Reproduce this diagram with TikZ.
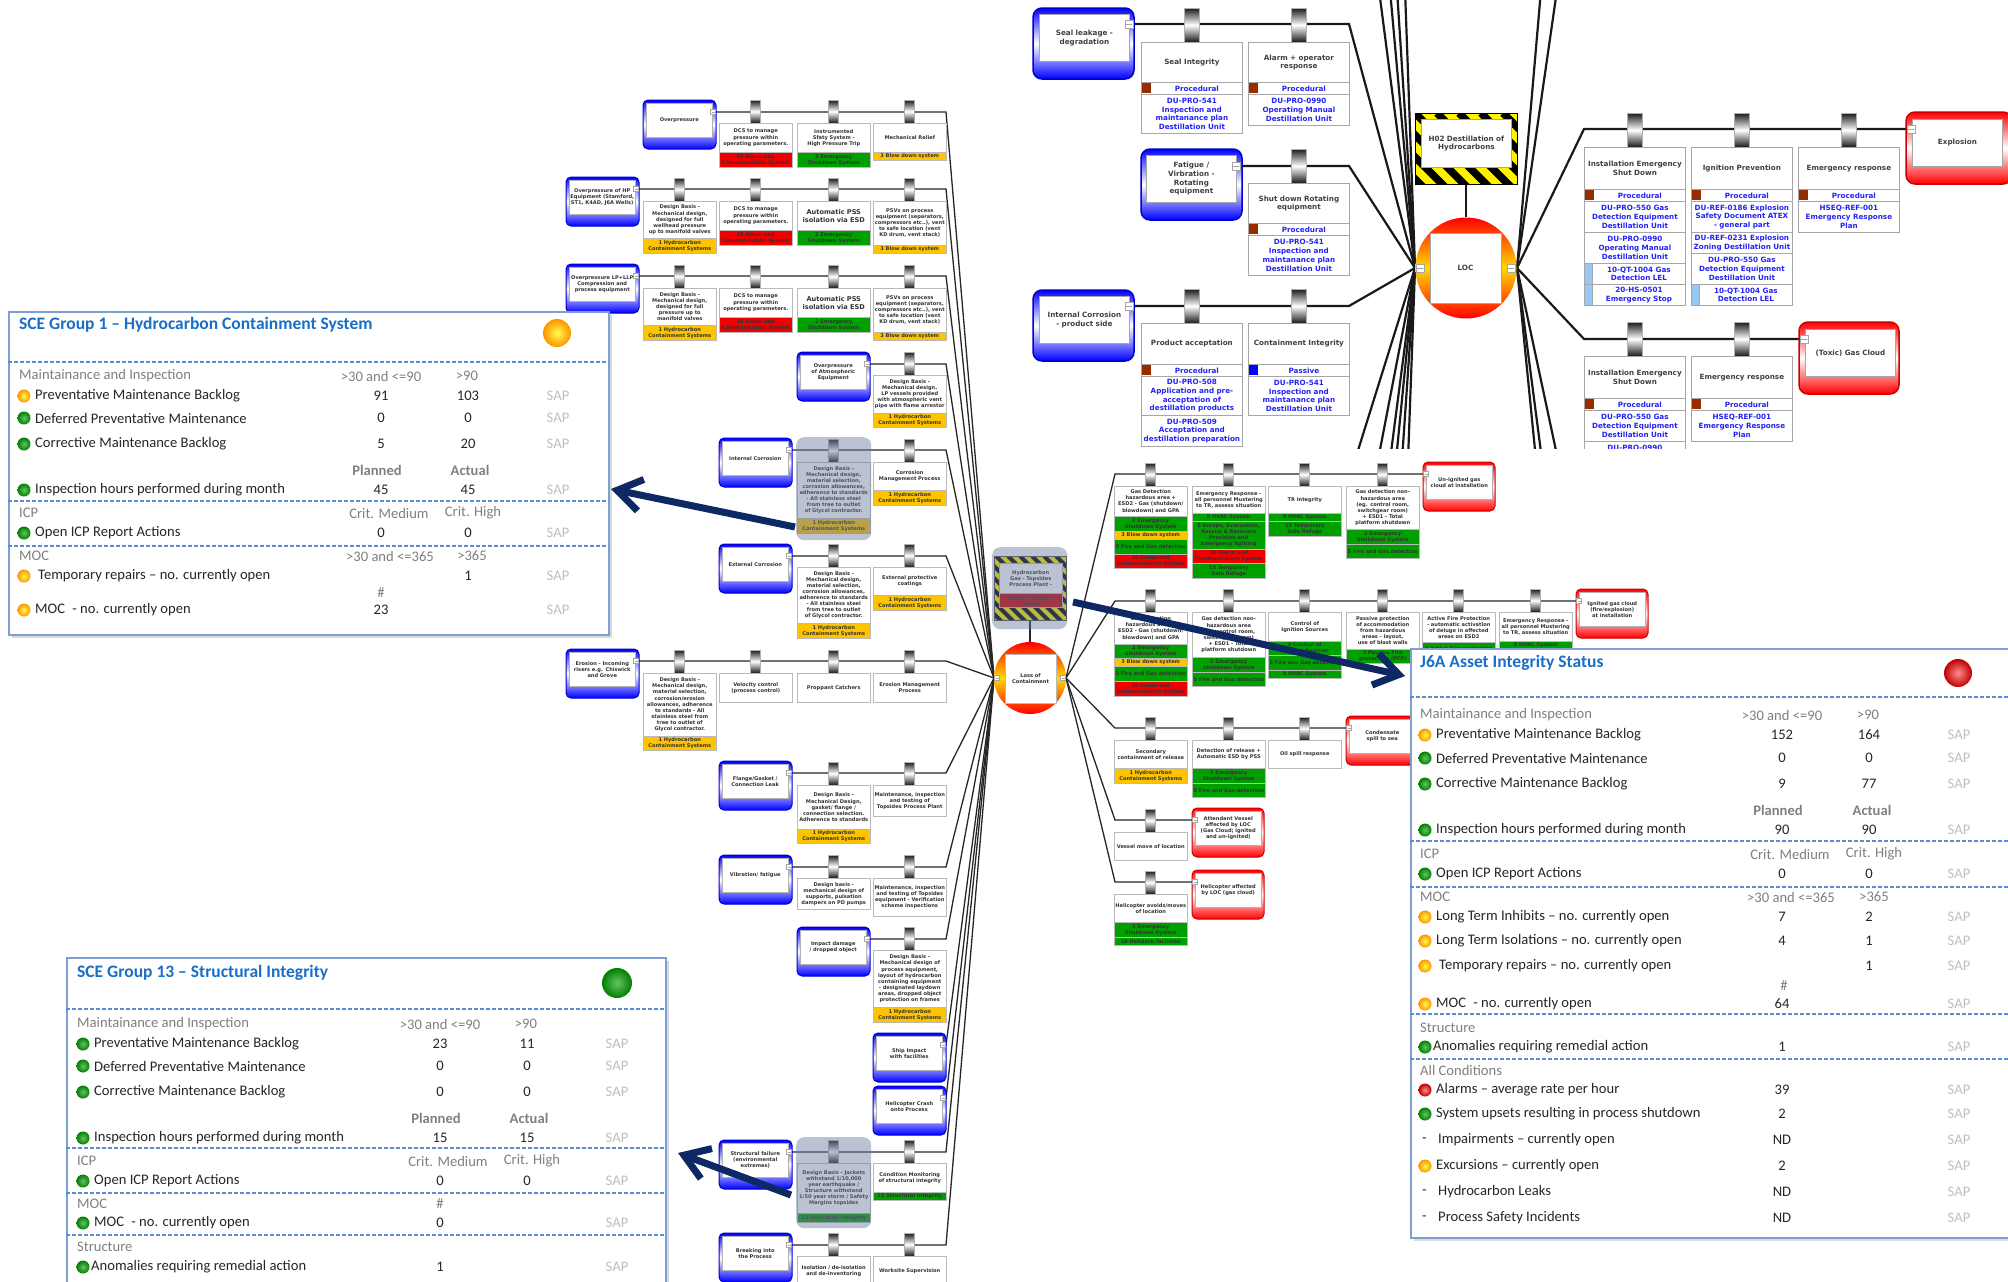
\documentclass[tikz,border=0pt]{standalone}
\usepackage{fontspec}
\setmainfont{DejaVu Sans}
\newfontfamily\kpifont{Carlito}
\usetikzlibrary{arrows.meta}
\hyphenpenalty=10000

\definecolor{bgreen}{RGB}{0,160,0}
\definecolor{bred}{RGB}{240,0,0}
\definecolor{byellow}{RGB}{255,196,0}
\definecolor{docblue}{RGB}{35,35,245}
\definecolor{procbrown}{RGB}{150,45,0}
\definecolor{tagblue}{RGB}{150,200,245}
\definecolor{framebl}{RGB}{125,160,210}
\definecolor{sepbl}{RGB}{90,140,210}
\definecolor{titlebl}{RGB}{25,110,200}
\definecolor{navy}{RGB}{14,40,100}
\definecolor{hlgrey}{RGB}{105,120,155}

\tikzset{
  conn/.style={line width=1.3pt, black!85},
  iconn/.style={line width=2.2pt, black!90},
  lcell/.style={draw=gray!55, fill=white, line width=0.5pt, anchor=north west, inner sep=1pt,
    minimum width=73pt, text width=71pt, align=center,
    font=\bfseries\fontsize{5.1}{6.1}\selectfont, text=black!80},
  rband/.style={lcell, fill=bred},
  gband/.style={lcell, fill=bgreen},
  yband/.style={lcell, fill=byellow},
  tin/.style={lcell, draw=gray!60, minimum width=66pt, text width=64pt, minimum height=34pt},
  tab/.style={minimum width=10pt, minimum height=23pt, inner sep=0pt, draw=gray!60,
    top color=black!90, bottom color=black!90, middle color=white},
  itab/.style={tab, minimum width=15pt, minimum height=34pt},
  threat/.style={draw=blue!80!black, line width=1pt, rounded corners=5pt,
    top color=blue, bottom color=blue, middle color=white},
  cons/.style={draw=red!80!black, line width=1pt, rounded corners=5pt,
    top color=red, bottom color=red, middle color=white},
  mbox/.style={draw=gray!70, fill=white, minimum size=5pt, inner sep=0pt, line width=0.4pt,
    path picture={\draw[line width=0.5pt] ([xshift=1pt]path picture bounding box.west)
      -- ([xshift=-1pt]path picture bounding box.east);}},
  imbox/.style={mbox, minimum size=8pt},
  icell/.style={draw=gray!70, fill=white, line width=0.8pt, anchor=north west, inner sep=1pt,
    minimum width=101pt, text width=99pt, align=center,
    font=\bfseries\fontsize{7.2}{8.7}\selectfont, text=black!75},
  idoc/.style={icell, text=docblue},
  itag/.style={idoc, minimum width=93pt, text width=91pt},
  iin/.style={icell, minimum width=90pt, text width=88pt, minimum height=47pt},
  hilite/.style={fill=hlgrey, fill opacity=0.45, rounded corners=8pt, anchor=north west, inner sep=0pt},
  locring/.style={circle, inner sep=0pt, top color=red, bottom color=red, middle color=yellow!70!orange},
  kpiframe/.style={draw=framebl, line width=1.6pt, fill=white, anchor=north west, inner sep=0pt},
  kpisep/.style={sepbl, line width=1.2pt, dash pattern=on 3.5pt off 2.5pt},
  kpititle/.style={anchor=west, inner sep=0pt, font=\kpifont\bfseries\fontsize{17.5}{20}\selectfont, text=titlebl},
  kpitext/.style={anchor=west, inner sep=0pt, font=\kpifont\fontsize{14.6}{17}\selectfont, text=black!85},
  kpinum/.style={kpitext, anchor=center},
  kpisap/.style={kpinum, text=black!25},
  kpihead/.style={kpitext, text=black!50},
  kpicol/.style={kpinum, text=black!50},
  kpicolb/.style={kpicol, font=\kpifont\bfseries\fontsize{14.6}{17}\selectfont},
  kpidot/.style={circle, minimum size=13pt, inner sep=0pt},
  kpiok/.style={inner color=yellow!70!white, outer color=orange!85!yellow},
  kpigo/.style={inner color=green!60!black!60!white, outer color=green!50!black},
  kpistop/.style={inner color=red!45!white, outer color=red!75!black},
  kpiarrow/.style={navy, line width=7pt, -{Straight Barb[length=24pt,width=32pt]}}
}

\newcommand{\kpirow}[6]{%
  \node[kpidot, #3] (#1d) at (24,#2) {};
  \node[kpitext] (#1t) at (35,#2) {#4};
  \node[kpinum] (#1a) at (381,#2) {#5};
  \node[kpinum] (#1b) at (468,#2) {#6};
  \node[kpisap] (#1s) at (558,#2) {SAP};}
\newcommand{\kpidash}[4]{%
  \node[kpitext] (#1d) at (21,#2) {-};
  \node[kpitext] (#1t) at (37,#2) {#3};
  \node[kpinum] (#1a) at (381,#2) {#4};
  \node[kpisap] (#1s) at (558,#2) {SAP};}

\begin{document}
\begin{tikzpicture}[x=1pt,y=-1pt]
\useasboundingbox (0,0) rectangle (2008,1282);
\fill[white] (0,0) rectangle (2008,1282);

\coordinate (L) at (994,678);
\coordinate (R) at (1066,678);

\foreach \x/\ry/\txt [count=\i] in {
  643/112/Overpressure,
  566/189/{Overpressure of HP Equipment (Stamford, ST1, K4AD, J6A Wells)},
  566/276/{Overpressure LP+LLP Compression and process equipment},
  797/364/{Overpressure of Atmospheric Equipment},
  719/450/{Internal Corrosion},
  719/556/{External Corrosion},
  566/661/{Erosion - Incoming risers e.g. Chiswick and Grove},
  719/773/{Flange/Gasket / Connection Leak},
  719/867/{Vibration/ fatigue},
  797/939/{Impact damage / dropped object},
  873/1045/{Ship Impact with facilities},
  873/1098/{Helicopter Crash onto Process},
  719/1152/{Structural failure (environmental extremes)},
  719/1245/{Breaking into the Process}}
{
  \coordinate (m\i) at (\x+70,\ry);
  \coordinate (c\i) at (946,\ry);
  \draw[conn] (m\i) -- (c\i) -- (L);
  \draw[threat] (\x,\ry-12) rectangle (\x+73,\ry+37);
  \node[tin] (th\i) at (\x+3,\ry-9) {\txt};
  \node[mbox] (mb\i) at (m\i) {};
}

\foreach \tx [count=\j] in {755.5,833.5,909.5} \node[tab] (kA\j) at (\tx,111.5) {};
\node[lcell, minimum height=29] (x1b) at (719,123) {DCS to manage pressure within operating parameters.};
\node[rband, minimum height=15] (x1bx) at (719,152) {10 Alarm and Communication System};
\node[lcell, minimum height=29] (x1c) at (797,123) {Instrumented Sfaty System - High Pressure Trip};
\node[gband, minimum height=15] (x1cx) at (797,152) {2 Emergency Shutdown System};
\node[lcell, minimum height=29] (x1d) at (873,123) {Mechanical Relief};
\node[yband, minimum height=8] (x1dx) at (873,152) {3 Blow down system};

\foreach \tx [count=\j] in {679.5,755.5,833.5,909.5} \node[tab] (kB\j) at (\tx,189.5) {};
\node[lcell, minimum height=37] (x2a) at (643,201) {Design Basis - Mechanical design, designed for full wellhead pressure up to manifold valves};
\node[yband, minimum height=15] (x2ax) at (643,238) {1 Hydrocarbon Containment Systems};
\node[lcell, minimum height=29] (x2b) at (719,201) {DCS to manage pressure within operating parameters.};
\node[rband, minimum height=15] (x2bx) at (719,230) {10 Alarm and Communication System};
\node[lcell, minimum height=29, font=\bfseries\fontsize{6.6}{7.9}\selectfont] (x2c) at (797,201) {Automatic PSS isolation via ESD};
\node[gband, minimum height=15] (x2cx) at (797,230) {2 Emergency Shutdown System};
\node[lcell, minimum height=44] (x2d) at (873,201) {PSVs on process equipment (separators, compressors etc..), vent to safe location (vent KD drum, vent stack)};
\node[yband, minimum height=8] (x2dx) at (873,245) {3 Blow down system};

\foreach \tx [count=\j] in {679.5,755.5,833.5,909.5} \node[tab] (kC\j) at (\tx,276.5) {};
\node[lcell, minimum height=37] (x3a) at (643,288) {Design Basis - Mechanical design, designed for full pressure up to manifold valves};
\node[yband, minimum height=15] (x3ax) at (643,325) {1 Hydrocarbon Containment Systems};
\node[lcell, minimum height=29] (x3b) at (719,288) {DCS to manage pressure within operating parameters.};
\node[rband, minimum height=15] (x3bx) at (719,317) {10 Alarm and Communication System};
\node[lcell, minimum height=29, font=\bfseries\fontsize{6.6}{7.9}\selectfont] (x3c) at (797,288) {Automatic PSS isolation via ESD};
\node[gband, minimum height=15] (x3cx) at (797,317) {2 Emergency Shutdown System};
\node[lcell, minimum height=44] (x3d) at (873,288) {PSVs on process equipment (separators, compressors etc..), vent to safe location (vent KD drum, vent stack)};
\node[yband, minimum height=8] (x3dx) at (873,332) {3 Blow down system};

\node[tab] (kD1) at (909.5,363.5) {};
\node[lcell, minimum height=38] (x4d) at (873,375) {Design Basis - Mechanical design, LP vessels provided with atmospheric vent pipe with flame arrestor};
\node[yband, minimum height=14] (x4dx) at (873,413) {1 Hydrocarbon Containment Systems};

\foreach \tx [count=\j] in {833.5,909.5} \node[tab] (kE\j) at (\tx,450.5) {};
\node[lcell, minimum height=56] (x5c) at (797,462) {Design Basis - Mechanical design, material selection, corrosion allowances, adherence to standards - All stainless steel from tree to outlet of Glycol contractor.};
\node[yband, minimum height=15] (x5cx) at (797,518) {1 Hydrocarbon Containment Systems};
\node[lcell, minimum height=28] (x5d) at (873,462) {Corrosion Management Process};
\node[yband, minimum height=15] (x5dx) at (873,490) {1 Hydrocarbon Containment Systems};

\foreach \tx [count=\j] in {833.5,909.5} \node[tab] (kF\j) at (\tx,555.5) {};
\node[lcell, minimum height=56] (x6c) at (797,567) {Design Basis - Mechanical design, material selection, corrosion allowances, adherence to standards - All stainless steel from tree to outlet of Glycol contractor.};
\node[yband, minimum height=15] (x6cx) at (797,623) {1 Hydrocarbon Containment Systems};
\node[lcell, minimum height=28] (x6d) at (873,567) {External protective coatings};
\node[yband, minimum height=15] (x6dx) at (873,595) {1 Hydrocarbon Containment Systems};

\foreach \tx [count=\j] in {679.5,755.5,833.5,909.5} \node[tab] (kG\j) at (\tx,661.5) {};
\node[lcell, minimum height=63] (x7a) at (643,673) {Design Basis - Mechanical design, material selection, corrosion/erosion allowances, adherence to standards - All stainless steel from tree to outlet of Glycol contractor.};
\node[yband, minimum height=14] (x7ax) at (643,736) {1 Hydrocarbon Containment Systems};
\node[lcell, minimum height=29] (x7b) at (719,673) {Velocity control (process control)};
\node[lcell, minimum height=29] (x7c) at (797,673) {Proppant Catchers};
\node[lcell, minimum height=29] (x7d) at (873,673) {Erosion Management Process};

\foreach \tx [count=\j] in {833.5,909.5} \node[tab] (kH\j) at (\tx,773.5) {};
\node[lcell, minimum height=44] (x8c) at (797,785) {Design Basis - Mechanical Design, gasket/ flange / connection selection. Adherence to standards};
\node[yband, minimum height=14] (x8cx) at (797,829) {1 Hydrocarbon Containment Systems};
\node[lcell, minimum height=31] (x8d) at (873,785) {Maintenance, inspection and testing of Topsides Process Plant};

\foreach \tx [count=\j] in {833.5,909.5} \node[tab] (kI\j) at (\tx,866.5) {};
\node[lcell, minimum height=31] (x9c) at (797,878) {Design basis - mechanical design of supports, pulsation dampers on PD pumps};
\node[lcell, minimum height=38] (x9d) at (873,878) {Maintenance, inspection and testing of Topsides equipment - Verification scheme inspections};

\node[tab] (kJ1) at (909.5,938.5) {};
\node[lcell, minimum height=57] (x10d) at (873,950) {Design Basis - Mechanical design of process equipment, layout of hydrocarbon containing equipment - designated laydown areas, dropped object protection on frames};
\node[yband, minimum height=15] (x10dx) at (873,1007) {1 Hydrocarbon Containment Systems};

\foreach \tx [count=\j] in {833.5,909.5} \node[tab] (kM\j) at (\tx,1151.5) {};
\node[lcell, minimum height=50] (x13c) at (797,1163) {Design Basis - Jackets withstand 1/10,000 year earthquake / Structure withstand 1/50 year storm / Safety Margins topsides};
\node[gband, minimum height=9] (x13cx) at (797,1213) {13 Structural Integrity};
\node[lcell, minimum height=29] (x13d) at (873,1163) {Condition Monitoring of structural integrity};
\node[gband, minimum height=8] (x13dx) at (873,1192) {13 Structural Integrity};

\foreach \tx [count=\j] in {833.5,909.5} \node[tab] (kN\j) at (\tx,1244.5) {};
\node[lcell, minimum height=30] (x14c) at (797,1256) {Isolation / de-isolation and de-inventoring};
\node[lcell, minimum height=30] (x14d) at (873,1256) {Worksite Supervision};

\foreach \ry/\cx/\txt [count=\i] in {
  474/1423/{Un-ignited gas cloud at installation},
  601/1576/{Ignited gas cloud (fire/explosion) at installation},
  728/1346/{Condensate spill to sea},
  820/1192/{Attendant Vessel affected by LOC (Gas Cloud; ignited and un-ignited)},
  882/1192/{Helicopter affected by LOC (gas cloud)}}
{
  \coordinate (q\i) at (1115,\ry);
  \coordinate (n\i) at (\cx+3,\ry);
  \draw[conn] (R) -- (q\i) -- (n\i);
  \draw[cons] (\cx,\ry-12) rectangle (\cx+72,\ry+37);
  \node[tin] (cq\i) at (\cx+3,\ry-9) {\txt};
  \node[mbox] (nb\i) at (n\i) {};
}

\foreach \tx [count=\j] in {1150.5,1228.5,1304.5,1382.5} \node[tab] (kP\j) at (\tx,474.5) {};
\node[lcell, minimum height=30] (y1e) at (1114,486) {Gas Detection hazardous area + ESD2 - Gas (shutdown/ blowdown) and GPA};
\node[gband, minimum height=15] (y1e1) at (1114,516) {2 Emergency Shutdown System};
\node[yband, minimum height=8] (y1e2) at (1114,531) {3 Blow down system};
\node[gband, minimum height=15] (y1e3) at (1114,539) {5 Fire and Gas detection};
\node[rband, minimum height=14] (y1e4) at (1114,554) {10 Alarm and Communication System};
\node[lcell, minimum height=27] (y1f) at (1192,486) {Emergency Response - all personnel Mustering to TR, assess situation};
\node[gband, minimum height=8] (y1f1) at (1192,513) {8 HVAC System};
\node[gband, minimum height=28] (y1f2) at (1192,521) {9 Escape, Evacuation, Rescue \& Recovery Provision and Emergency lighting};
\node[rband, minimum height=14] (y1f3) at (1192,549) {10 Alarm and Communication System};
\node[gband, minimum height=15] (y1f4) at (1192,563) {15 Temporary Safe Refuge};
\node[lcell, minimum height=27] (y1g) at (1268,486) {TR Integrity};
\node[gband, minimum height=8] (y1g1) at (1268,513) {8 HVAC System};
\node[gband, minimum height=15] (y1g2) at (1268,521) {15 Temporary Safe Refuge};
\node[lcell, minimum height=43] (y1h) at (1346,486) {Gas detection non-hazardous area (eg. control room, switchgear room) + ESD1 - Total platform shutdown};
\node[gband, minimum height=15] (y1h1) at (1346,529) {2 Emergency Shutdown System};
\node[gband, minimum height=14] (y1h2) at (1346,544) {5 Fire and Gas detection};

\foreach \tx [count=\j] in {1150.5,1228.5,1304.5,1382.5,1458.5,1535.5} \node[tab] (kQ\j) at (\tx,600.5) {};
\node[lcell, minimum height=32] (y2e) at (1114,612) {Gas Detection hazardous area + ESD2 - Gas (shutdown/ blowdown) and GPA};
\node[gband, minimum height=14] (y2e1) at (1114,644) {2 Emergency Shutdown System};
\node[yband, minimum height=8] (y2e2) at (1114,658) {3 Blow down system};
\node[gband, minimum height=15] (y2e3) at (1114,666) {5 Fire and Gas detection};
\node[rband, minimum height=15] (y2e4) at (1114,681) {10 Alarm and Communication System};
\node[lcell, minimum height=45] (y2f) at (1192,612) {Gas detection non-hazardous area (eg. control room, switchgear room) + ESD1 - Total platform shutdown};
\node[gband, minimum height=15] (y2f1) at (1192,657) {2 Emergency Shutdown System};
\node[gband, minimum height=14] (y2f2) at (1192,672) {5 Fire and Gas detection};
\node[lcell, minimum height=29] (y2g) at (1268,612) {Control of Ignition Sources};
\node[gband, minimum height=14] (y2g1) at (1268,641) {4 Control of Ignition Sources};
\node[gband, minimum height=15] (y2g2) at (1268,655) {5 Fire and Gas detection};
\node[gband, minimum height=8] (y2g3) at (1268,670) {8 HVAC System};
\node[lcell, minimum height=37] (y2h) at (1346,612) {Passive protection of accommodation from hazardous areas - layout, use of blast walls};
\node[gband, minimum height=14] (y2h1) at (1346,649) {7 Passive Fire protection (PFP)};
\node[lcell, minimum height=30] (y2i) at (1422,612) {Active Fire Protection - automatic activation of deluge in affected areas on ESD2};
\node[gband, minimum height=14] (y2i1) at (1422,642) {6 Active Fire protection};
\node[lcell, minimum height=29] (y2j) at (1499,612) {Emergency Response - all personnel Mustering to TR, assess situation};
\node[gband, minimum height=8] (y2j1) at (1499,641) {8 HVAC System};

\foreach \tx [count=\j] in {1150.5,1228.5,1304.5} \node[tab] (kR\j) at (\tx,728.5) {};
\node[lcell, minimum height=28] (y3e) at (1114,740) {Secondary containment of release};
\node[yband, minimum height=15] (y3e1) at (1114,768) {1 Hydrocarbon Containment Systems};
\node[lcell, minimum height=28] (y3f) at (1192,740) {Detection of release + Automatic ESD by PSS};
\node[gband, minimum height=15] (y3f1) at (1192,768) {2 Emergency Shutdown System};
\node[gband, minimum height=14] (y3f2) at (1192,783) {5 Fire and Gas detection};
\node[lcell, minimum height=28] (y3g) at (1268,740) {Oil spill response};

\node[tab] (kS1) at (1150.5,820.5) {};
\node[lcell, minimum height=28] (y4e) at (1114,832) {Vessel move of location};
\node[tab] (kT1) at (1150.5,882.5) {};
\node[lcell, minimum height=28] (y5e) at (1114,894) {Helicopter avoids/moves of location};
\node[gband, minimum height=15] (y5e1) at (1114,922) {2 Emergency Shutdown System};
\node[gband, minimum height=8] (y5e2) at (1114,937) {16 Helideck facilities};

\node[locring, minimum size=72pt] (loc1) at (1030,678) {};
\coordinate (hz1b) at (1030,620);
\draw[conn] (hz1b) -- (loc1.north);
\node[lcell, anchor=center, minimum width=51pt, text width=49pt, minimum height=49pt] (loc1i) at (1030.5,678.5) {Loss of Containment};
\node[mbox] (ml1) at (997,678) {};
\node[mbox] (mr1) at (1063,678) {};
\fill[yellow] (994,556) rectangle (1066,620);
\begin{scope}
  \clip (994,556) rectangle (1066,620);
  \foreach \s in {-70,-58,...,80} \draw[line width=4.2pt] (994+\s,556) -- ++(80,80);
\end{scope}
\draw[black!70, line width=0.6pt] (994,556) rectangle (1066,620);
\node[lcell, minimum width=63pt, text width=61pt, minimum height=30pt] (hz1) at (999,563) {Hydrocarbon Gas - Topsides Process Plant -};
\node[rband, fill=red!80!black, minimum width=63pt, text width=61pt, minimum height=14pt] (hz1x) at (999,593) {Asset Integrity Tracker};

\begin{scope}
  \clip (1020,-5) rectangle (2015,448);
  \coordinate (LL) at (1415,268);
  \coordinate (LR) at (1517,268);
  \foreach \ex/\ey [count=\j] in {1379/-10,1390/-10,1397/-10,1405/-10,1355/460,1378/460,1390/460,1396/460,1402/460,1408/460}
    {\coordinate (u\j) at (\ex,\ey); \draw[iconn] (LL) -- (u\j);}
  \foreach \ex/\ey [count=\j] in {1541/-10,1557/-10,1536/460,1542/460,1558/460}
    {\coordinate (v\j) at (\ex,\ey); \draw[iconn] (LR) -- (v\j);}
  \coordinate (s1) at (1129,24);  \coordinate (s1c) at (1349,24);
  \coordinate (s2) at (1236,166); \coordinate (s2c) at (1349,166);
  \coordinate (s3) at (1129,306); \coordinate (s3c) at (1349,306);
  \coordinate (e1) at (1911,129); \coordinate (e1c) at (1584,129);
  \coordinate (e2) at (1804,339); \coordinate (e2c) at (1584,339);
  \draw[iconn] (s1) -- (s1c) -- (LL);
  \draw[iconn] (s2) -- (s2c) -- (LL);
  \draw[iconn] (s3) -- (s3c) -- (LL);
  \draw[iconn] (LR) -- (e1c) -- (e1);
  \draw[iconn] (LR) -- (e2c) -- (e2);

  \draw[threat, rounded corners=9pt, line width=1.5pt] (1033,8) rectangle (1134,79);
  \node[iin] (it1) at (1039,14) {Seal leakage -\\degradation};
  \draw[threat, rounded corners=9pt, line width=1.5pt] (1141,149) rectangle (1242,220);
  \node[iin] (it2) at (1146,155) {Fatigue /\\Virbration -\\Rotating\\equipment};
  \draw[threat, rounded corners=9pt, line width=1.5pt] (1033,290) rectangle (1134,361);
  \node[iin] (it3) at (1039,296) {Internal Corrosion\\- product side};
  \draw[cons, rounded corners=9pt, line width=1.5pt] (1906,112) rectangle (2012,184);
  \node[iin] (ic1) at (1912,119) {Explosion};
  \draw[cons, rounded corners=9pt, line width=1.5pt] (1799,322) rectangle (1899,394);
  \node[iin] (ic2) at (1805,329) {(Toxic) Gas Cloud};
  \node[imbox] (ms1) at (s1) {};
  \node[imbox] (ms2) at (s2) {};
  \node[imbox] (ms3) at (s3) {};
  \node[imbox] (me1) at (e1) {};
  \node[imbox] (me2) at (e2) {};

  \foreach \tx [count=\j] in {1191.5,1298.5} \node[itab] (kU\j) at (\tx,25) {};
  \node[itab] (kV1) at (1298.5,166) {};
  \foreach \tx [count=\j] in {1191.5,1298.5} \node[itab] (kW\j) at (\tx,306) {};
  \foreach \tx [count=\j] in {1634.5,1741.5,1848.5} \node[itab] (kX\j) at (\tx,130) {};
  \foreach \tx [count=\j] in {1634.5,1741.5} \node[itab] (kY\j) at (\tx,339) {};

  \node[icell, minimum height=40] (z1) at (1141,42) {Seal Integrity};
  \node[idoc, minimum height=12] (z1p) at (1141,82) {\hspace*{10pt}Procedural};
  \fill[procbrown] (1142,82.6) rectangle (1151,93.4);
  \node[idoc, minimum height=39] (z1d) at (1141,94) {DU-PRO-541\\Inspection and\\maintanance plan\\Destillation Unit};
  \node[icell, minimum height=40] (z2) at (1248,42) {Alarm + operator\\response};
  \node[idoc, minimum height=12] (z2p) at (1248,82) {\hspace*{10pt}Procedural};
  \fill[procbrown] (1249,82.6) rectangle (1258,93.4);
  \node[idoc, minimum height=31] (z2d) at (1248,94) {DU-PRO-0990\\Operating Manual\\Destillation Unit};
  \node[icell, minimum height=40] (z3) at (1248,183) {Shut down Rotating\\equipment};
  \node[idoc, minimum height=12] (z3p) at (1248,223) {\hspace*{10pt}Procedural};
  \fill[procbrown] (1249,223.6) rectangle (1258,234.4);
  \node[idoc, minimum height=40] (z3d) at (1248,235) {DU-PRO-541\\Inspection and\\maintanance plan\\Destillation Unit};
  \node[icell, minimum height=41] (z4) at (1141,323) {Product acceptation};
  \node[idoc, minimum height=12] (z4p) at (1141,364) {\hspace*{10pt}Procedural};
  \fill[procbrown] (1142,364.6) rectangle (1151,375.4);
  \node[idoc, minimum height=39] (z4d) at (1141,376) {DU-PRO-508\\Application and pre-\\acceptation of\\destillation products};
  \node[idoc, minimum height=31] (z4e) at (1141,415) {DU-PRO-509\\Acceptation and\\destillation preparation};
  \node[icell, minimum height=41] (z5) at (1248,323) {Containment Integrity};
  \node[idoc, minimum height=12] (z5p) at (1248,364) {\hspace*{10pt}Passive};
  \fill[blue] (1249,364.6) rectangle (1258,375.4);
  \node[idoc, minimum height=39] (z5d) at (1248,376) {DU-PRO-541\\Inspection and\\maintanance plan\\Destillation Unit};

  \node[icell, minimum height=42] (z6) at (1584,147) {Installation Emergency\\Shut Down};
  \node[idoc, minimum height=12] (z6p) at (1584,189) {\hspace*{10pt}Procedural};
  \fill[procbrown] (1585,189.6) rectangle (1594,200.4);
  \node[idoc, minimum height=31] (z6d) at (1584,201) {DU-PRO-550 Gas\\Detection Equipment\\Destillation Unit};
  \node[idoc, minimum height=31] (z6e) at (1584,232) {DU-PRO-0990\\Operating Manual\\Destillation Unit};
  \draw[gray!70, fill=tagblue, line width=0.8pt] (1584,263) rectangle (1592,284);
  \draw[gray!70, fill=tagblue, line width=0.8pt] (1584,284) rectangle (1592,305);
  \node[itag, minimum height=21] (z6f) at (1592,263) {10-QT-1004 Gas\\Detection LEL};
  \node[itag, minimum height=21] (z6g) at (1592,284) {20-HS-0501\\Emergency Stop};
  \node[icell, minimum height=42] (z7) at (1691,147) {Ignition Prevention};
  \node[idoc, minimum height=12] (z7p) at (1691,189) {\hspace*{10pt}Procedural};
  \fill[procbrown] (1692,189.6) rectangle (1701,200.4);
  \node[idoc, minimum height=31] (z7d) at (1691,201) {DU-REF-0186 Explosion\\Safety Document ATEX\\- general part};
  \node[idoc, minimum height=21] (z7e) at (1691,232) {DU-REF-0231 Explosion\\Zoning Destillation Unit};
  \node[idoc, minimum height=31] (z7f) at (1691,253) {DU-PRO-550 Gas\\Detection Equipment\\Destillation Unit};
  \draw[gray!70, fill=tagblue, line width=0.8pt] (1691,284) rectangle (1699,305);
  \node[itag, minimum height=21] (z7g) at (1699,284) {10-QT-1004 Gas\\Detection LEL};
  \node[icell, minimum height=42] (z8) at (1798,147) {Emergency response};
  \node[idoc, minimum height=12] (z8p) at (1798,189) {\hspace*{10pt}Procedural};
  \fill[procbrown] (1799,189.6) rectangle (1808,200.4);
  \node[idoc, minimum height=31] (z8d) at (1798,201) {HSEQ-REF-001\\Emergency Response\\Plan};

  \node[icell, minimum height=42] (z9) at (1584,356) {Installation Emergency\\Shut Down};
  \node[idoc, minimum height=12] (z9p) at (1584,398) {\hspace*{10pt}Procedural};
  \fill[procbrown] (1585,398.6) rectangle (1594,409.4);
  \node[idoc, minimum height=31] (z9d) at (1584,410) {DU-PRO-550 Gas\\Detection Equipment\\Destillation Unit};
  \node[idoc, minimum height=31] (z9e) at (1584,441) {DU-PRO-0990\\Operating Manual\\Destillation Unit};
  \node[icell, minimum height=42] (z10) at (1691,356) {Emergency response};
  \node[idoc, minimum height=12] (z10p) at (1691,398) {\hspace*{10pt}Procedural};
  \fill[procbrown] (1692,398.6) rectangle (1701,409.4);
  \node[idoc, minimum height=31] (z10d) at (1691,410) {HSEQ-REF-001\\Emergency Response\\Plan};

  \node[locring, minimum size=101pt] (loc2) at (1466,268) {};
  \coordinate (hz2b) at (1466,184);
  \draw[iconn] (hz2b) -- (loc2.north);
  \node[icell, anchor=center, minimum width=71pt, text width=69pt, minimum height=70pt] (loc2i) at (1465.5,268) {LOC};
  \node[imbox] (ml2) at (1420,268) {};
  \node[imbox] (mr2) at (1511,268) {};
  \fill[yellow] (1415,113) rectangle (1517,184);
  \begin{scope}
    \clip (1415,113) rectangle (1517,184);
    \foreach \s in {-110,-88,...,110} \draw[line width=7.5pt] (1415+\s,113) -- ++(110,110);
  \end{scope}
  \draw[black, line width=1pt] (1415,113) rectangle (1517,184);
  \node[iin, minimum height=48pt] (hz2) at (1421,119) {H02 Destillation of\\Hydrocarbons};
\end{scope}

\node[hilite, minimum width=75pt, minimum height=103pt] (hl1) at (796,437) {};
\node[hilite, minimum width=75pt, minimum height=91pt] (hl2) at (796,1137) {};
\node[hilite, minimum width=75pt, minimum height=82pt] (hl0) at (992,547) {};

\fill[black!15] (12,315) rectangle (612,638);
\node[kpiframe, minimum width=600pt, minimum height=323pt] (sce1) at (8,311) {};
\node[kpititle] (sce1tt) at (19,325) {SCE Group 1 – Hydrocarbon Containment System};
\node[kpidot, minimum size=28pt, kpiok] (sce1st) at (557,333) {};
\draw[kpisep] (8,362) -- (608,362);
\draw[kpisep] (8,501) -- (608,501);
\draw[kpisep] (8,546) -- (608,546);
\node[kpihead] (sce1h1) at (19,376) {Maintainance and Inspection};
\node[kpicol] (sce1c1) at (381,376) {>30 and <=90};
\node[kpicol] (sce1c2) at (467,376) {>90};
\kpirow{sce1r1}{396}{kpiok}{Preventative Maintenance Backlog}{91}{103}
\kpirow{sce1r2}{418}{kpigo}{Deferred Preventative Maintenance}{0}{0}
\kpirow{sce1r3}{444}{kpigo}{Corrective Maintenance Backlog}{5}{20}
\node[kpicolb] (sce1c3) at (377,470) {Planned};
\node[kpicolb] (sce1c4) at (470,470) {Actual};
\kpirow{sce1r4}{490}{kpigo}{Inspection hours performed during month}{45}{45}
\node[kpihead] (sce1h2) at (19,513) {ICP};
\node[kpicol] (sce1c5) at (389,513) {Crit. Medium};
\node[kpicol] (sce1c6) at (473,513) {Crit. High};
\kpirow{sce1r5}{533}{kpigo}{Open ICP Report Actions}{0}{0}
\node[kpihead] (sce1h3) at (19,556) {MOC};
\node[kpicol] (sce1c7) at (390,556) {>30 and <=365};
\node[kpicol] (sce1c8) at (472,556) {>365};
\kpirow{sce1r6}{576}{kpiok}{\hspace*{3pt}Temporary repairs – no. currently open}{}{1}
\node[kpicol] (sce1c9) at (381,593) {\#};
\kpirow{sce1r7}{610}{kpiok}{MOC\enspace- no. currently open}{23}{}

\begin{scope}[xshift=59pt]
\fill[black!15] (11,961) rectangle (610,1300);
\node[kpiframe, minimum width=599pt, minimum height=340pt] (sce13) at (7,957) {};
\node[kpititle] (sce13tt) at (18,973) {SCE Group 13 – Structural Integrity};
\node[kpidot, minimum size=30pt, kpigo] (sce13st) at (558,983) {};
\draw[kpisep] (7,1009) -- (606,1009);
\draw[kpisep] (7,1148) -- (606,1148);
\draw[kpisep] (7,1193) -- (606,1193);
\draw[kpisep] (7,1235) -- (606,1235);
\node[kpihead] (sce13h1) at (18,1024) {Maintainance and Inspection};
\node[kpicol] (sce13c1) at (381,1024) {>30 and <=90};
\node[kpicol] (sce13c2) at (467,1024) {>90};
\kpirow{sce13r1}{1044}{kpigo}{Preventative Maintenance Backlog}{23}{11}
\kpirow{sce13r2}{1066}{kpigo}{Deferred Preventative Maintenance}{0}{0}
\kpirow{sce13r3}{1092}{kpigo}{Corrective Maintenance Backlog}{0}{0}
\node[kpicolb] (sce13c3) at (377,1118) {Planned};
\node[kpicolb] (sce13c4) at (470,1118) {Actual};
\kpirow{sce13r4}{1138}{kpigo}{Inspection hours performed during month}{15}{15}
\node[kpihead] (sce13h2) at (18,1161) {ICP};
\node[kpicol] (sce13c5) at (389,1161) {Crit. Medium};
\node[kpicol] (sce13c6) at (473,1161) {Crit. High};
\kpirow{sce13r5}{1181}{kpigo}{Open ICP Report Actions}{0}{0}
\node[kpihead] (sce13h3) at (18,1204) {MOC};
\node[kpicol] (sce13c7) at (381,1204) {\#};
\kpirow{sce13r6}{1223}{kpigo}{MOC\enspace- no. currently open}{0}{}
\node[kpihead] (sce13h4) at (18,1247) {Structure};
\kpirow{sce13r7}{1267}{kpigo}{\hspace*{-3pt}Anomalies requiring remedial action}{1}{}
\end{scope}

\begin{scope}[xshift=1401pt]
\fill[black!15] (13,652) rectangle (616,1241);
\node[kpiframe, minimum width=603pt, minimum height=589pt] (j6a) at (9,648) {};
\node[kpititle] (j6att) at (19,663) {J6A Asset Integrity Status};
\node[kpidot, minimum size=28pt, kpistop] (j6ast) at (557,673) {};
\draw[kpisep] (9,697) -- (612,697);
\draw[kpisep] (9,841) -- (612,841);
\draw[kpisep] (9,887) -- (612,887);
\draw[kpisep] (9,1014) -- (612,1014);
\draw[kpisep] (9,1059) -- (612,1059);
\node[kpihead] (j6ah1) at (19,715) {Maintainance and Inspection};
\node[kpicol] (j6ac1) at (381,715) {>30 and <=90};
\node[kpicol] (j6ac2) at (467,715) {>90};
\kpirow{j6ar1}{735}{kpiok}{Preventative Maintenance Backlog}{152}{164}
\kpirow{j6ar2}{758}{kpigo}{Deferred Preventative Maintenance}{0}{0}
\kpirow{j6ar3}{784}{kpigo}{Corrective Maintenance Backlog}{9}{77}
\node[kpicolb] (j6ac3) at (377,810) {Planned};
\node[kpicolb] (j6ac4) at (471,810) {Actual};
\kpirow{j6ar4}{830}{kpigo}{Inspection hours performed during month}{90}{90}
\node[kpihead] (j6ah2) at (19,854) {ICP};
\node[kpicol] (j6ac5) at (389,854) {Crit. Medium};
\node[kpicol] (j6ac6) at (473,854) {Crit. High};
\kpirow{j6ar5}{874}{kpigo}{Open ICP Report Actions}{0}{0}
\node[kpihead] (j6ah3) at (19,897) {MOC};
\node[kpicol] (j6ac7) at (390,897) {>30 and <=365};
\node[kpicol] (j6ac8) at (473,897) {>365};
\kpirow{j6ar6}{917}{kpiok}{Long Term Inhibits – no. currently open}{7}{2}
\kpirow{j6ar7}{941}{kpiok}{Long Term Isolations – no. currently open}{4}{1}
\kpirow{j6ar8}{966}{kpiok}{\hspace*{3pt}Temporary repairs – no. currently open}{}{1}
\node[kpicol] (j6ac9) at (383,986) {\#};
\kpirow{j6ar9}{1004}{kpiok}{MOC\enspace- no. currently open}{64}{}
\node[kpihead] (j6ah4) at (19,1028) {Structure};
\kpirow{j6ar10}{1047}{kpigo}{\hspace*{-3pt}Anomalies requiring remedial action}{1}{}
\node[kpihead] (j6ah5) at (19,1070) {All Conditions};
\kpirow{j6ar11}{1090}{kpistop}{Alarms – average rate per hour}{39}{}
\kpirow{j6ar12}{1114}{kpigo}{System upsets resulting in process shutdown}{2}{}
\kpidash{j6ar13}{1140}{Impairments – currently open}{ND}
\kpirow{j6ar14}{1166}{kpiok}{Excursions – currently open}{2}{}
\kpidash{j6ar15}{1192}{Hydrocarbon Leaks}{ND}
\kpidash{j6ar16}{1218}{Process Safety Incidents}{ND}
\end{scope}

\coordinate (a1s) at (795,527);  \coordinate (a1e) at (611,489);
\coordinate (a2s) at (791,1195); \coordinate (a2e) at (678,1153);
\coordinate (a3s) at (1073,602); \coordinate (a3e) at (1405,676);
\draw[kpiarrow] (a1s) -- (a1e);
\draw[kpiarrow] (a2s) -- (a2e);
\draw[kpiarrow] (a3s) -- (a3e);
\end{tikzpicture}
\end{document}
